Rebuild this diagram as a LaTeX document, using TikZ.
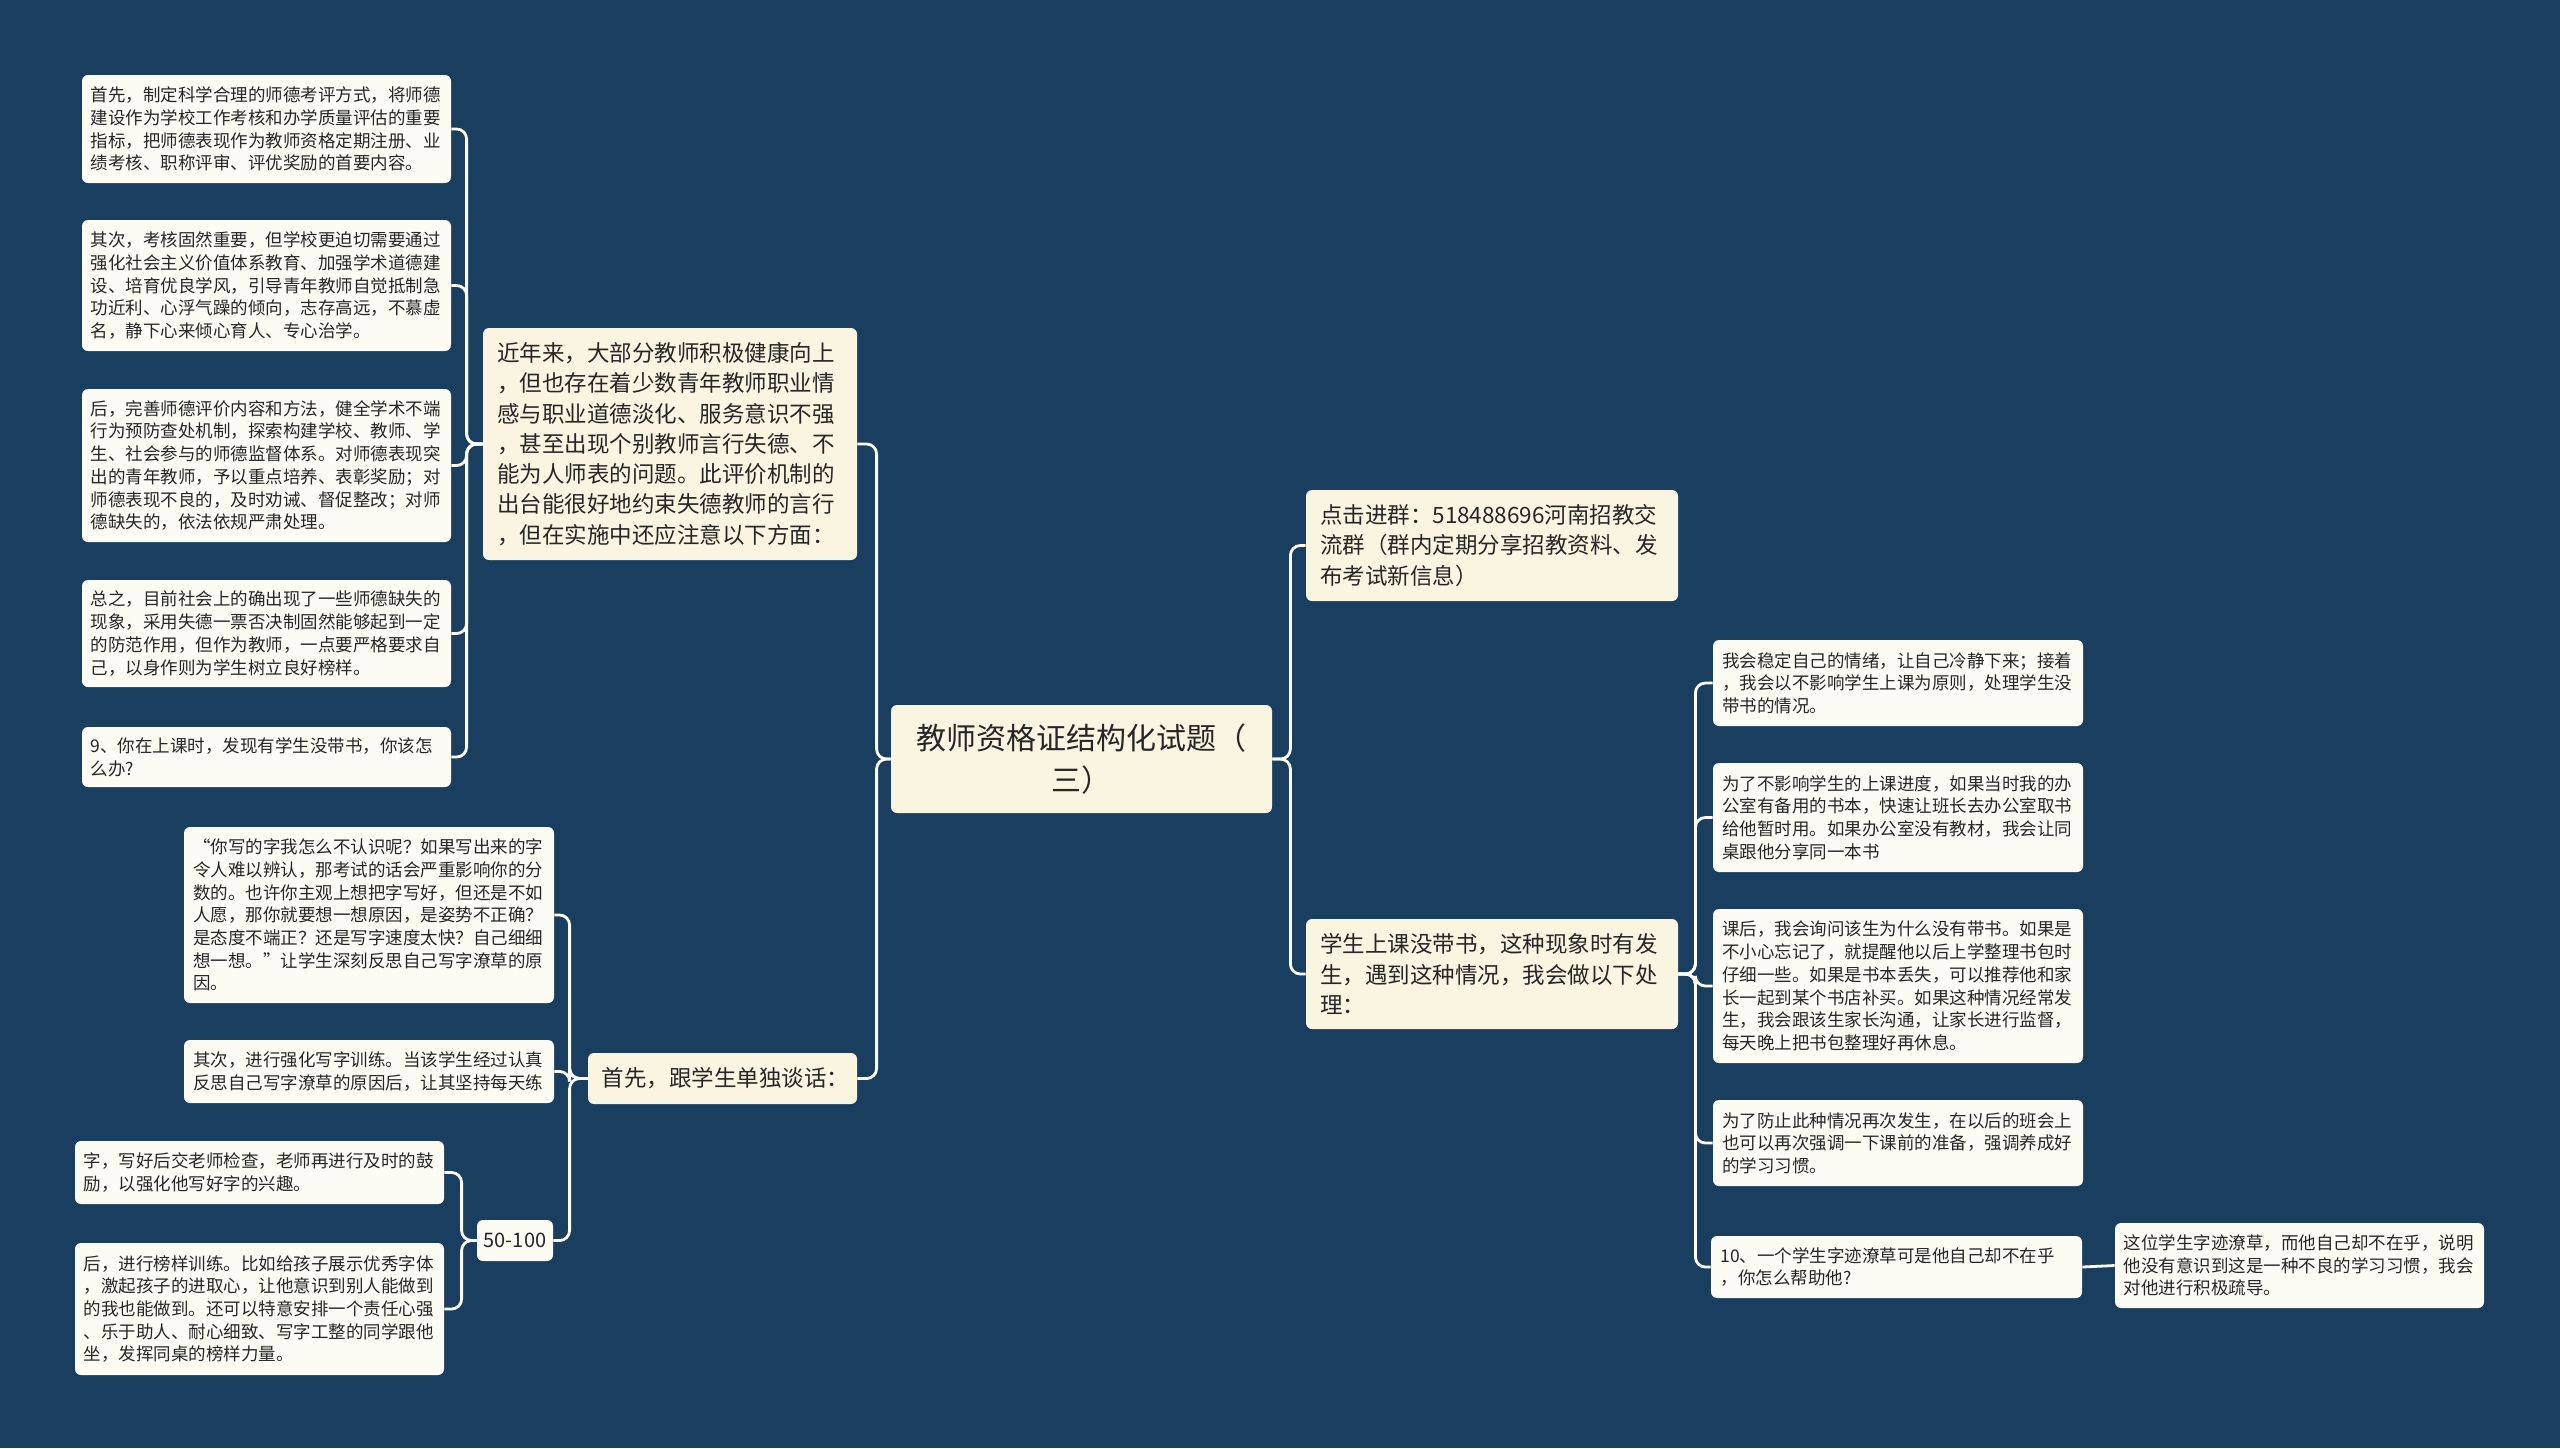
\documentclass[tikz,border=0pt]{standalone}
\usepackage{fontspec}
\setmainfont{Noto Sans CJK SC}
\definecolor{bgc}{RGB}{26,62,95}
\definecolor{leafc}{RGB}{252,252,245}
\definecolor{creamc}{RGB}{250,245,225}
\definecolor{txtc}{RGB}{38,38,38}
\tikzset{
  boxbase/.style={rounded corners=3pt, inner ysep=0pt, text=txtc, align=left},
  leafbox/.style={boxbase, fill=leafc, minimum width=184.5pt, text width=176pt, inner xsep=4.25pt,
    font=\fontsize{8.75pt}{11.35pt}\selectfont},
  midbox/.style={boxbase, fill=creamc, minimum width=187pt, text width=173pt, inner xsep=7pt,
    font=\fontsize{11.25pt}{15.15pt}\selectfont},
  rootbox/.style={boxbase, fill=creamc, minimum width=190.5pt, text width=176pt, inner xsep=7.25pt,
    align=center, font=\fontsize{15pt}{21pt}\selectfont},
  numbox/.style={boxbase, fill=leafc, minimum width=38pt, align=center, inner xsep=2pt,
    font=\fontsize{10pt}{12pt}\selectfont},
  conn/.style={draw=white, line width=1.4pt, rounded corners=5pt}
}
\begin{document}
\begin{tikzpicture}[x=0.5pt,y=-0.5pt]
\fill[bgc] (0,0) rectangle (2560,1448);
\useasboundingbox (0,0) rectangle (2560,1448);

% root
\node[rootbox, minimum height=54pt] (root) at (1081.5,759) {教师资格证结构化试题（\\三）};

% level 1
\node[midbox, minimum height=116pt] (jin) at (670,444) {近年来，大部分教师积极健康向上\\，但也存在着少数青年教师职业情\\感与职业道德淡化、服务意识不强\\，甚至出现个别教师言行失德、不\\能为人师表的问题。此评价机制的\\出台能很好地约束失德教师的言行\\，但在实施中还应注意以下方面：};
\node[midbox, minimum width=134.5pt, text width=121pt, inner xsep=6.75pt, minimum height=25.5pt] (shou) at (722.5,1078.5) {首先，跟学生单独谈话：};
\node[midbox, minimum width=186pt, text width=172pt, minimum height=55.5pt] (dj) at (1492,545.5) {点击进群：518488696河南招教交\\流群（群内定期分享招教资料、发\\布考试新信息）};
\node[midbox, minimum width=186pt, text width=172pt, minimum height=55pt] (xs) at (1492,974) {学生上课没带书，这种现象时有发\\生，遇到这种情况，我会做以下处\\理：};

% left leaves
\node[leafbox, minimum height=54pt] (l1) at (266.5,129) {首先，制定科学合理的师德考评方式，将师德\\建设作为学校工作考核和办学质量评估的重要\\指标，把师德表现作为教师资格定期注册、业\\绩考核、职称评审、评优奖励的首要内容。};
\node[leafbox, minimum height=65.5pt] (l2) at (266.5,285.5) {其次，考核固然重要，但学校更迫切需要通过\\强化社会主义价值体系教育、加强学术道德建\\设、培育优良学风，引导青年教师自觉抵制急\\功近利、心浮气躁的倾向，志存高远，不慕虚\\名，静下心来倾心育人、专心治学。};
\node[leafbox, minimum height=76.5pt] (l3) at (266.5,465.5) {后，完善师德评价内容和方法，健全学术不端\\行为预防查处机制，探索构建学校、教师、学\\生、社会参与的师德监督体系。对师德表现突\\出的青年教师，予以重点培养、表彰奖励；对\\师德表现不良的，及时劝诫、督促整改；对师\\德缺失的，依法依规严肃处理。};
\node[leafbox, minimum height=53.5pt] (l4) at (266.5,633.5) {总之，目前社会上的确出现了一些师德缺失的\\现象，采用失德一票否决制固然能够起到一定\\的防范作用，但作为教师，一点要严格要求自\\己，以身作则为学生树立良好榜样。};
\node[leafbox, minimum height=30pt] (l5) at (266.5,757) {9、你在上课时，发现有学生没带书，你该怎\\么办?};

% lower-left leaves
\node[leafbox, minimum width=185pt, minimum height=88pt] (m1) at (369,915) {“你写的字我怎么不认识呢？如果写出来的字\\令人难以辨认，那考试的话会严重影响你的分\\数的。也许你主观上想把字写好，但还是不如\\人愿，那你就要想一想原因，是姿势不正确？\\是态度不端正？还是写字速度太快？自己细细\\想一想。”让学生深刻反思自己写字潦草的原\\因。};
\node[leafbox, minimum width=185pt, minimum height=31.5pt] (m2) at (369,1071.5) {其次，进行强化写字训练。当该学生经过认真\\反思自己写字潦草的原因后，让其坚持每天练};
\node[numbox, minimum height=20.5pt] (num) at (515,1240.5) {50-100};
\node[leafbox, minimum height=31.5pt] (m3) at (259.5,1172.5) {字，写好后交老师检查，老师再进行及时的鼓\\励，以强化他写好字的兴趣。};
\node[leafbox, minimum height=66pt] (m4) at (259.5,1309) {后，进行榜样训练。比如给孩子展示优秀字体\\，激起孩子的进取心，让他意识到别人能做到\\的我也能做到。还可以特意安排一个责任心强\\、乐于助人、耐心细致、写字工整的同学跟他\\坐，发挥同桌的榜样力量。};

% right leaves
\node[leafbox, minimum width=185pt, minimum height=43pt] (r1) at (1898,683) {我会稳定自己的情绪，让自己冷静下来；接着\\，我会以不影响学生上课为原则，处理学生没\\带书的情况。};
\node[leafbox, minimum width=185pt, minimum height=54.5pt] (r2) at (1898,817.5) {为了不影响学生的上课进度，如果当时我的办\\公室有备用的书本，快速让班长去办公室取书\\给他暂时用。如果办公室没有教材，我会让同\\桌跟他分享同一本书};
\node[leafbox, minimum width=185pt, minimum height=77pt] (r3) at (1898,986) {课后，我会询问该生为什么没有带书。如果是\\不小心忘记了，就提醒他以后上学整理书包时\\仔细一些。如果是书本丢失，可以推荐他和家\\长一起到某个书店补买。如果这种情况经常发\\生，我会跟该生家长沟通，让家长进行监督，\\每天晚上把书包整理好再休息。};
\node[leafbox, minimum width=185pt, minimum height=43pt] (r4) at (1898,1143) {为了防止此种情况再次发生，在以后的班会上\\也可以再次强调一下课前的准备，强调养成好\\的学习习惯。};
\node[leafbox, minimum width=185.5pt, minimum height=31pt] (r5) at (1896.5,1267) {10、一个学生字迹潦草可是他自己却不在乎\\，你怎么帮助他?};
\node[leafbox, minimum width=183.5pt, minimum height=42.5pt] (r6) at (2299.5,1265.5) {这位学生字迹潦草，而他自己却不在乎，说明\\他没有意识到这是一种不良的学习习惯，我会\\对他进行积极疏导。};

% connectors
\foreach \t in {jin,shou} \draw[conn] (root.west) -- ++(-7pt,0) |- (\t.east);
\foreach \t in {dj,xs} \draw[conn] (root.east) -- ++(9pt,0) |- (\t.west);
\foreach \t in {l1,l2,l3,l4,l5} \draw[conn] (jin.west) -- ++(-8pt,0) |- (\t.east);
\foreach \t in {m1,m2,num} \draw[conn] (shou.west) -- ++(-9pt,0) |- (\t.east);
\foreach \t in {m3,m4} \draw[conn] (num.west) -- ++(-7.5pt,0) |- (\t.east);
\foreach \t in {r1,r2,r3,r4,r5} \draw[conn] (xs.east) -- ++(8.5pt,0) |- (\t.west);
\draw[conn] (r5.east) -- (r6.west);
\end{tikzpicture}
\end{document}
